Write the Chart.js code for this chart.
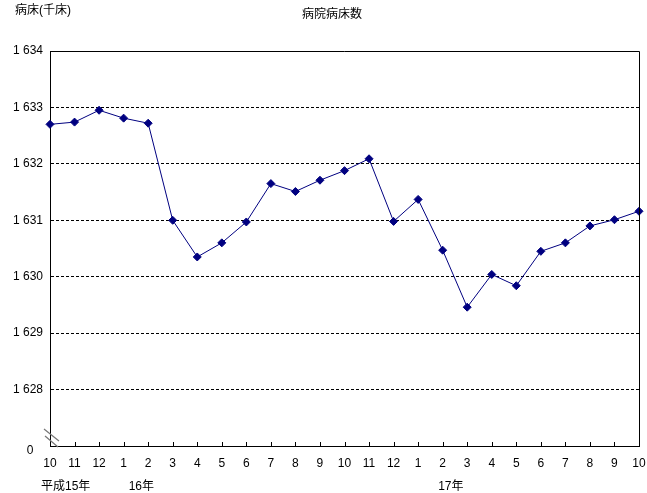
<!DOCTYPE html>
<html>
<head>
<meta charset="utf-8">
<script src="https://cdn.jsdelivr.net/npm/chart.js@4.4.1/dist/chart.umd.min.js"></script>
<style>
  body { margin: 0; background: #fff; }
  #wrap { width: 647px; height: 493px; }
</style>
</head>
<body>
<div id="wrap"><canvas id="chart" width="647" height="493"></canvas></div>
<script>
// months from 平成15年10月 to 17年10月
const months = ['10', '11', '12', '1', '2', '3', '4', '5', '6', '7', '8', '9',
  '10', '11', '12', '1', '2', '3', '4', '5', '6', '7', '8', '9', '10'];

// hospital beds, thousand
const beds = [1632.70, 1632.74, 1632.95, 1632.81, 1632.72, 1631.00, 1630.35, 1630.60,
  1630.97, 1631.65, 1631.51, 1631.71, 1631.88, 1632.09, 1630.98, 1631.37, 1630.47,
  1629.46, 1630.04, 1629.84, 1630.45, 1630.60, 1630.90, 1631.01, 1631.16];

// 1627 is where the axis is broken and stands for 0
const yTickValues = [1627, 1628, 1629, 1630, 1631, 1632, 1633, 1634];
const yTickLabels = ['0', '1 628', '1 629', '1 630', '1 631', '1 632', '1 633', '1 634'];

const yearLabels = ['平成15年', '16年', '17年'];
const yearStart = [0, 3, 15];

const chartTitle = '病院病床数';
const yTitle = '病床(千床)';

const FONT = "'Liberation Sans', 'Noto Sans CJK JP', sans-serif";

const extras = {
  id: 'extras',
  afterDraw(chart) {
    const { ctx, chartArea: a, scales } = chart;
    const x = scales.x;
    const y = scales.y;
    ctx.save();

    // frame top / right
    ctx.strokeStyle = '#000';
    ctx.lineWidth = 1;
    ctx.beginPath();
    ctx.moveTo(a.left, a.top + 0.5);
    ctx.lineTo(a.right + 0.5, a.top + 0.5);
    ctx.lineTo(a.right + 0.5, a.bottom);
    ctx.stroke();

    // small inward ticks on x axis
    ctx.beginPath();
    months.forEach((m, i) => {
      const px = Math.round(x.getPixelForValue(i)) + 0.5;
      ctx.moveTo(px, a.bottom);
      ctx.lineTo(px, a.bottom - 4);
    });
    ctx.stroke();

    // axis break
    ctx.strokeStyle = '#777';
    ctx.lineWidth = 1.2;
    ctx.beginPath();
    ctx.moveTo(a.left - 6, a.bottom - 17);
    ctx.lineTo(a.left + 9, a.bottom - 5);
    ctx.moveTo(a.left - 5, a.bottom - 10);
    ctx.lineTo(a.left + 8, a.bottom + 1);
    ctx.stroke();

    // texts
    ctx.fillStyle = '#000';
    ctx.font = '12px ' + FONT;
    ctx.textBaseline = 'middle';
    ctx.textAlign = 'left';
    ctx.fillText(yTitle, 15, 11);
    ctx.textAlign = 'center';
    ctx.fillText(chartTitle, 332, 15);

    // the "0" under the break sits a little lower and left
    ctx.fillText(yTickLabels[0], a.left - 20, y.getPixelForValue(yTickValues[0]) + 5);

    const shift = [-9, 5, 20];
    ctx.textAlign = 'left';
    yearLabels.forEach((t, i) => {
      ctx.fillText(t, x.getPixelForValue(yearStart[i]) + shift[i], 487);
    });
    ctx.restore();
  }
};

new Chart(document.getElementById('chart'), {
  type: 'line',
  data: {
    labels: months,
    datasets: [{
      data: beds,
      borderColor: '#000080',
      backgroundColor: '#000080',
      borderWidth: 1,
      pointStyle: 'rectRot',
      pointRadius: 4,
      pointHoverRadius: 4,
      tension: 0,
      clip: false
    }]
  },
  options: {
    responsive: false,
    animation: false,
    layout: { padding: { top: 51, right: 0, left: 0, bottom: 0 } },
    plugins: {
      legend: { display: false },
      tooltip: { enabled: false },
      title: { display: false }
    },
    scales: {
      x: {
        offset: false,
        afterFit: (s) => { s.height = 47; s.paddingRight = 8; },
        grid: { display: false, drawTicks: false },
        border: { display: true, color: '#000', width: 1 },
        ticks: {
          autoSkip: false,
          maxRotation: 0,
          padding: 10,
          color: '#000',
          font: { family: FONT, size: 12 }
        }
      },
      y: {
        min: 1627,
        max: 1634,
        afterFit: (s) => { s.width = 50; },
        afterBuildTicks: (s) => { s.ticks = yTickValues.map(v => ({ value: v })); },
        grid: {
          drawTicks: false,
          color: (c) => (c.tick && (c.tick.value === 1627 || c.tick.value === 1634)) ? 'rgba(0,0,0,0)' : '#000',
          lineWidth: 1
        },
        border: { display: true, color: '#000', width: 1, dash: [3, 2] },
        ticks: {
          padding: 7,
          color: '#000',
          font: { family: FONT, size: 12 },
          callback: (v) => v === yTickValues[0] ? '' : yTickLabels[yTickValues.indexOf(v)]
        }
      }
    }
  },
  plugins: [extras]
});
</script>
</body>
</html>
